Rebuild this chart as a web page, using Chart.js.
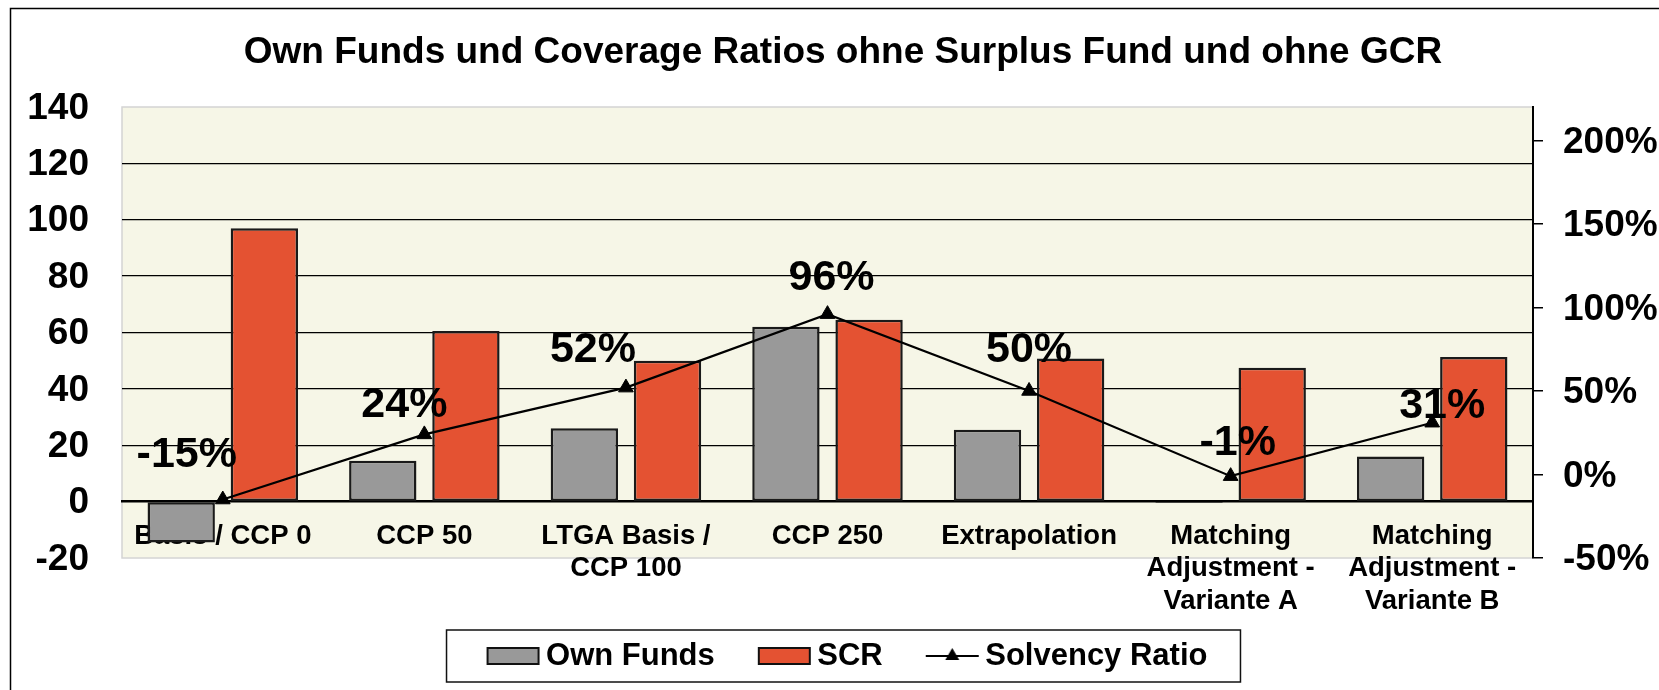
<!DOCTYPE html>
<html>
<head>
<meta charset="utf-8">
<title>Own Funds und Coverage Ratios</title>
<script src="https://cdn.jsdelivr.net/npm/chart.js@4.4.1/dist/chart.umd.min.js"></script>
<style>
  html, body { margin: 0; padding: 0; background: #fff; overflow: hidden; }
  #wrap { width: 1659px; height: 690px; position: relative; }
</style>
</head>
<body>
<div id="wrap"><canvas id="solvencyChart"></canvas></div>
<script>
// scenario names, split into lines like in the original chart
var categories = [
    ['Basis / CCP 0'],
    ['CCP 50'],
    ['LTGA Basis /', 'CCP 100'],
    ['CCP 250'],
    ['Extrapolation'],
    ['Matching', 'Adjustment -', 'Variante A'],
    ['Matching', 'Adjustment -', 'Variante B']
];
var ownFunds = [-14.5, 14.5, 26, 62, 25.5, -0.5, 16];
var scr = [97, 60.5, 50, 64.5, 50.8, 47.5, 51.3];
var solvencyRatio = [-0.15, 0.24, 0.52, 0.96, 0.50, -0.01, 0.31];

// axis ticks (left in units, right as ratio)
var leftTicks = [-20, 0, 20, 40, 60, 80, 100, 120, 140];
var rightTicks = [-0.5, 0, 0.5, 1, 1.5, 2];
var rightMax = 2.2;

var FONT = '"Liberation Sans", Arial, sans-serif';
var GREY = '#999999';
var RED = '#E45232';

// small canvas icons for the legend (bar swatch / line with triangle)
function legendIcon(kind, color) {
    var c = document.createElement('canvas');
    c.width = 72; c.height = 24;
    var g = c.getContext('2d');
    if (kind === 'bar') {
        g.fillStyle = color;
        g.fillRect(19, 4, 51, 16);
        g.lineWidth = 2;
        g.strokeStyle = '#111';
        g.strokeRect(19, 4, 51, 16);
    } else {
        g.strokeStyle = '#000';
        g.lineWidth = 2;
        g.beginPath(); g.moveTo(18, 12); g.lineTo(71, 12); g.stroke();
        g.fillStyle = '#000';
        g.beginPath(); g.moveTo(44.5, 4); g.lineTo(51.5, 16); g.lineTo(37.5, 16); g.closePath(); g.fill();
    }
    return c;
}

// background, outer frame, plot area
var chartFrame = {
    id: 'chartFrame',
    beforeDraw: function(chart) {
        var ctx = chart.ctx, a = chart.chartArea;
        ctx.save();
        ctx.fillStyle = '#fff';
        ctx.fillRect(0, 0, chart.width, chart.height);
        ctx.strokeStyle = '#000';
        ctx.lineWidth = 1.5;
        ctx.strokeRect(10.5, 8.5, chart.width + 50, chart.height + 50);
        ctx.fillStyle = '#F6F6E7';
        ctx.fillRect(a.left, a.top, a.right - a.left, a.bottom - a.top);
        ctx.strokeStyle = '#d4d4d4';
        ctx.lineWidth = 1.5;
        ctx.strokeRect(a.left, a.top, a.right - a.left, a.bottom - a.top);
        ctx.restore();
    }
};

// percentage labels next to the triangles
var ratioLabels = {
    id: 'ratioLabels',
    afterDatasetsDraw: function(chart, args, opts) {
        var ctx = chart.ctx;
        var meta = chart.getDatasetMeta(2);
        ctx.save();
        ctx.font = 'bold 43px ' + FONT;
        ctx.fillStyle = '#000';
        ctx.textAlign = 'center';
        ctx.textBaseline = 'middle';
        meta.data.forEach(function(pt, i) {
            var txt = Math.round(solvencyRatio[i] * 100) + '%';
            ctx.fillText(txt, pt.x + opts.dx[i], pt.y + opts.dy[i]);
        });
        ctx.restore();
    }
};

// box around the legend
var legendBox = {
    id: 'legendBox',
    afterDraw: function(chart) {
        var lg = chart.legend;
        if (!lg || !lg.legendHitBoxes.length) return;
        var hb = lg.legendHitBoxes;
        var last = hb[hb.length - 1];
        var cy = hb[0].top + 15.5;
        var x1 = hb[0].left + 8 - 40;
        var x2 = last.left + last.width + 33;
        var ctx = chart.ctx;
        ctx.save();
        ctx.strokeStyle = '#111';
        ctx.lineWidth = 1.5;
        ctx.strokeRect(x1, cy - 26, x2 - x1, 52);
        ctx.restore();
    }
};

var ctx = document.getElementById('solvencyChart').getContext('2d');
var solvencyChart = new Chart(ctx, {
    type: 'bar',
    data: {
        labels: categories,
        datasets: [{
            label: 'Own Funds',
            data: ownFunds,
            backgroundColor: GREY,
            borderColor: '#1a1a1a',
            borderWidth: 2.5,
            borderSkipped: false,
            categoryPercentage: 0.825,
            barPercentage: 0.81,
            yAxisID: 'y',
            order: 1
        }, {
            label: 'SCR',
            data: scr,
            backgroundColor: RED,
            borderColor: '#1a1a1a',
            borderWidth: 2.5,
            borderSkipped: false,
            categoryPercentage: 0.825,
            barPercentage: 0.81,
            yAxisID: 'y',
            order: 1
        }, {
            type: 'line',
            label: 'Solvency Ratio',
            data: solvencyRatio,
            borderColor: '#000',
            borderWidth: 2.2,
            pointStyle: 'triangle',
            pointRadius: 8.5,
            pointBackgroundColor: '#000',
            pointBorderColor: '#000',
            pointBorderWidth: 1,
            tension: 0,
            yAxisID: 'y2',
            order: 0
        }]
    },
    options: {
        responsive: true,
        maintainAspectRatio: false,
        animation: false,
        layout: { padding: { left: 27, right: 0, top: 10, bottom: 8.5 } },
        plugins: {
            title: {
                display: true,
                text: 'Own Funds und Coverage Ratios ohne Surplus Fund und ohne GCR',
                color: '#000',
                font: { family: FONT, size: 37, weight: 'bold', lineHeight: 1.2 },
                padding: { top: 21, bottom: 31.6 }
            },
            legend: {
                position: 'bottom',
                title: { display: true, text: '', font: { size: 10, lineHeight: 1 }, padding: { top: 37.5, bottom: 0 } },
                labels: {
                    usePointStyle: true,
                    pointStyleWidth: 52,
                    padding: 35,
                    color: '#000',
                    font: { family: FONT, size: 31, weight: 'bold' },
                    generateLabels: function(chart) {
                        return chart.data.datasets.map(function(ds, i) {
                            return {
                                text: ds.label,
                                datasetIndex: i,
                                hidden: false,
                                lineWidth: 0,
                                fillStyle: 'transparent',
                                strokeStyle: 'transparent',
                                fontColor: '#000',
                                pointStyle: ds.type === 'line' ? legendIcon('line') : legendIcon('bar', ds.backgroundColor)
                            };
                        });
                    }
                }
            },
            tooltip: { enabled: false },
            ratioLabels: {
                dx: [-36, -20, -33, 4, 0, 7, 10],
                dy: [-44, -29, -37, -36, -41, -33, -17]
            }
        },
        scales: {
            x: {
                position: { y: 0 },
                offset: true,
                grid: { color: 'transparent', drawTicks: false },
                border: { display: true, color: '#000', width: 2.5 },
                ticks: {
                    autoSkip: false,
                    maxRotation: 0,
                    padding: 19,
                    color: '#000',
                    font: { family: FONT, size: 27.5, weight: 'bold', lineHeight: 1.17 }
                }
            },
            y: {
                position: 'left',
                min: leftTicks[0],
                max: leftTicks[leftTicks.length - 1],
                afterBuildTicks: function(scale) {
                    scale.ticks = leftTicks.map(function(v) { return { value: v }; });
                },
                afterFit: function(scale) { scale.width = 95; },
                border: { display: false },
                grid: {
                    drawTicks: false,
                    lineWidth: 1.3,
                    color: function(c) {
                        var v = c.tick ? c.tick.value : null;
                        return (v > 0 && v < 140) ? '#000' : 'transparent';
                    }
                },
                ticks: {
                    padding: 33,
                    labelOffset: 1.5,
                    color: '#000',
                    font: { family: FONT, size: 37, weight: 'bold' }
                }
            },
            y2: {
                position: 'right',
                min: rightTicks[0],
                max: rightMax,
                afterBuildTicks: function(scale) {
                    scale.ticks = rightTicks.map(function(v) { return { value: v }; });
                },
                afterFit: function(scale) { scale.width = 126; },
                border: { display: true, color: '#000', width: 2 },
                grid: { drawOnChartArea: false, drawTicks: true, tickLength: 10, color: '#000', lineWidth: 1.5 },
                ticks: {
                    padding: 20,
                    labelOffset: 2,
                    color: '#000',
                    font: { family: FONT, size: 37, weight: 'bold' },
                    callback: function(v) { return Math.round(v * 100) + '%'; }
                }
            }
        }
    },
    plugins: [chartFrame, ratioLabels, legendBox]
});
</script>
</body>
</html>
